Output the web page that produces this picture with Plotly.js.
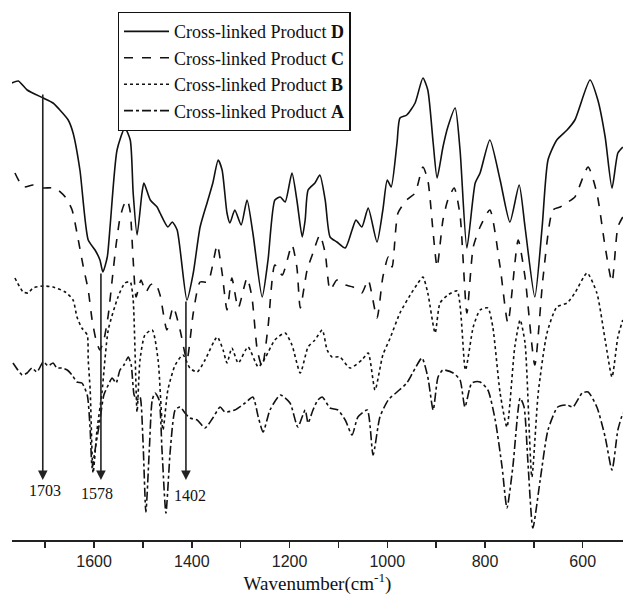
<!DOCTYPE html>
<html>
<head>
<meta charset="utf-8">
<script src="https://cdn.plot.ly/plotly-3.0.1.min.js"></script>
<style>
  html, body { margin: 0; padding: 0; background: #fff; }
  #chart { width: 623px; height: 595px; }
</style>
</head>
<body>
<div id="chart"></div>
<script>
// Wavenumbers (cm^-1) and offset transmittance (a.u.)
const wnD = [1768,1755,1737,1704,1684,1670,1653,1643,1629,1612,1598,1588,1582,1573,1567,1553,1537,1526,1520,1512,1502,1498,1485,1471,1465,1449,1440,1430,1410,1397,1383,1367,1357,1346,1338,1328,1322,1312,1299,1287,1275,1256,1244,1230,1219,1209,1195,1185,1174,1168,1162,1148,1138,1127,1117,1103,1086,1072,1064,1052,1039,1021,1009,1000,992,980,974,960,943,927,917,906,898,886,876,861,851,837,820,810,790,769,749,730,718,698,683,671,653,632,616,585,569,554,540,528,518];
const tD = [457,459,450,442,437,430,420,407,370,300,290,280,268,283,315,390,412,400,347,305,347,357,340,333,327,313,318,310,240,267,313,340,357,380,370,327,317,330,315,340,307,243,280,340,343,338,367,340,303,320,350,357,365,340,303,298,292,310,320,313,332,298,330,360,353,397,422,425,437,462,450,397,362,393,413,432,390,292,357,367,400,360,318,355,313,243,313,380,400,410,420,460,440,403,352,387,393];

const wnC = [1762,1745,1725,1704,1680,1659,1645,1635,1622,1612,1604,1596,1588,1580,1571,1563,1555,1547,1539,1532,1526,1520,1514,1504,1494,1485,1475,1465,1451,1438,1424,1410,1397,1383,1367,1348,1338,1328,1318,1305,1287,1277,1266,1256,1244,1230,1215,1195,1185,1178,1164,1152,1138,1127,1117,1103,1086,1070,1052,1039,1021,1009,998,990,978,960,943,927,917,906,898,886,876,863,851,837,824,810,790,769,753,732,718,698,681,661,646,630,616,589,571,554,540,528,518];
const tC = [367,353,355,352,352,343,330,307,273,250,220,200,190,200,225,260,295,322,335,340,328,280,243,260,248,255,257,245,210,233,210,180,227,258,258,295,267,230,262,232,262,243,190,173,213,275,265,295,273,232,270,287,305,287,250,260,255,253,247,260,222,263,283,273,327,340,347,373,360,307,273,320,340,352,325,227,293,313,330,273,217,300,263,175,263,330,333,338,343,373,347,293,258,313,323];

const wnB = [1762,1745,1735,1725,1704,1684,1659,1643,1635,1625,1614,1612,1608,1602,1594,1584,1571,1551,1537,1526,1520,1512,1506,1496,1481,1469,1459,1449,1434,1418,1404,1389,1373,1348,1336,1328,1318,1305,1285,1264,1250,1230,1209,1195,1178,1162,1148,1133,1123,1113,1097,1076,1052,1039,1025,1009,994,974,953,937,927,917,902,892,876,857,840,824,810,794,784,769,755,739,728,718,704,691,673,653,632,616,591,571,554,540,528,518];
const tB = [262,248,247,252,254,253,248,240,223,212,205,180,150,67,110,147,210,243,257,258,240,128,180,205,210,180,110,150,175,185,172,168,180,203,190,177,192,177,193,173,182,200,207,195,167,193,200,210,190,183,183,172,180,187,150,185,202,227,245,257,263,247,207,237,245,249,170,213,230,232,213,147,113,193,220,197,63,147,207,233,237,247,267,247,200,163,203,220];

const wnA = [1766,1756,1747,1737,1727,1717,1704,1694,1684,1676,1666,1655,1645,1635,1625,1614,1608,1604,1598,1588,1580,1571,1563,1555,1547,1539,1530,1524,1518,1512,1506,1500,1494,1487,1481,1475,1467,1461,1453,1444,1434,1424,1414,1404,1389,1373,1357,1342,1332,1312,1291,1275,1264,1254,1240,1219,1199,1183,1168,1162,1152,1142,1133,1117,1101,1086,1072,1060,1041,1029,1015,998,980,960,947,929,917,906,896,886,865,851,841,827,810,794,779,765,755,743,728,720,712,702,687,671,651,632,620,601,589,571,554,540,528,518];
const tA = [177,170,165,167,172,168,178,174,177,172,172,170,165,158,157,145,110,72,90,120,145,155,162,157,170,175,183,175,145,140,143,100,28,90,140,147,140,90,27,90,130,133,127,122,120,112,122,133,128,130,137,143,123,108,130,145,137,113,130,117,130,140,143,132,130,120,105,123,130,85,123,140,148,157,168,182,163,130,163,170,167,160,133,157,158,150,120,73,32,73,142,133,77,12,60,110,133,135,133,147,148,133,103,70,110,127];

const seriesNames = ['Cross-linked Product <b>D</b>','Cross-linked Product <b>C</b>','Cross-linked Product <b>B</b>','Cross-linked Product <b>A</b>'];
const peakLabels = ['1703','1578','1402'];
const peakPos = [1705, 1586, 1412];
const arrowTail = [447, 268, 240];
const arrowTip = 60;
const labelY = [50, 47, 45];
const labelPos = [1700, 1594, 1404];
const tickVals = [1600, 1400, 1200, 1000, 800, 600];

const serif = 'Liberation Serif, Times New Roman, serif';
const lineStyle = (dash) => ({color: '#111', width: 1.6, dash: dash, shape: 'spline', smoothing: 0.6});

const traces = [
  {x: wnD, y: tD, name: seriesNames[0], mode: 'lines', line: lineStyle('solid')},
  {x: wnC, y: tC, name: seriesNames[1], mode: 'lines', line: lineStyle('dash')},
  {x: wnB, y: tB, name: seriesNames[2], mode: 'lines', line: lineStyle('dot')},
  {x: wnA, y: tA, name: seriesNames[3], mode: 'lines', line: lineStyle('dashdot')}
];

const annotations = [];
peakPos.forEach((p, i) => {
  annotations.push({x: p, y: arrowTip, ax: p, ay: arrowTail[i], axref: 'x', ayref: 'y', xref: 'x', yref: 'y',
    text: '', showarrow: true, arrowhead: 2, arrowsize: 1.2, arrowwidth: 1.6, arrowcolor: '#222'});
  annotations.push({x: labelPos[i], y: labelY[i], xref: 'x', yref: 'y', text: peakLabels[i], showarrow: false,
    font: {family: serif, size: 16, color: '#111'}, xanchor: 'center', yanchor: 'middle'});
});

const layout = {
  width: 623, height: 595,
  margin: {l: 12, r: 0, t: 0, b: 55},
  paper_bgcolor: '#fff', plot_bgcolor: '#fff',
  showlegend: true,
  legend: {x: 0.173, y: 0.978, xanchor: 'left', yanchor: 'top', bgcolor: '#fff', bordercolor: '#111', borderwidth: 1.3,
    font: {family: serif, size: 18, color: '#111'}, traceorder: 'normal', tracegroupgap: 0, itemwidth: 45},
  xaxis: {
    range: [1768, 517.5], autorange: false,
    tickmode: 'array', tickvals: tickVals, ticktext: tickVals.map(String),
    ticks: 'outside', ticklen: 6, tickwidth: 1.5, tickcolor: '#222',
    minor: {dtick: 100, tick0: 500, ticks: 'outside', ticklen: 6, tickwidth: 1.5, tickcolor: '#222', showgrid: false},
    showline: true, linecolor: '#222', linewidth: 2,
    showgrid: false, zeroline: false,
    tickfont: {family: 'Liberation Sans, Arial, sans-serif', size: 16, color: '#222'},
    title: {text: 'Wavenumber(cm<sup>-1</sup>)', font: {family: serif, size: 19, color: '#111'}, standoff: 4}
  },
  yaxis: {range: [0, 540], autorange: false, visible: false, showgrid: false, zeroline: false, fixedrange: true},
  annotations: annotations
};

Plotly.newPlot('chart', traces, layout, {displayModeBar: false, staticPlot: true});
</script>
</body>
</html>
